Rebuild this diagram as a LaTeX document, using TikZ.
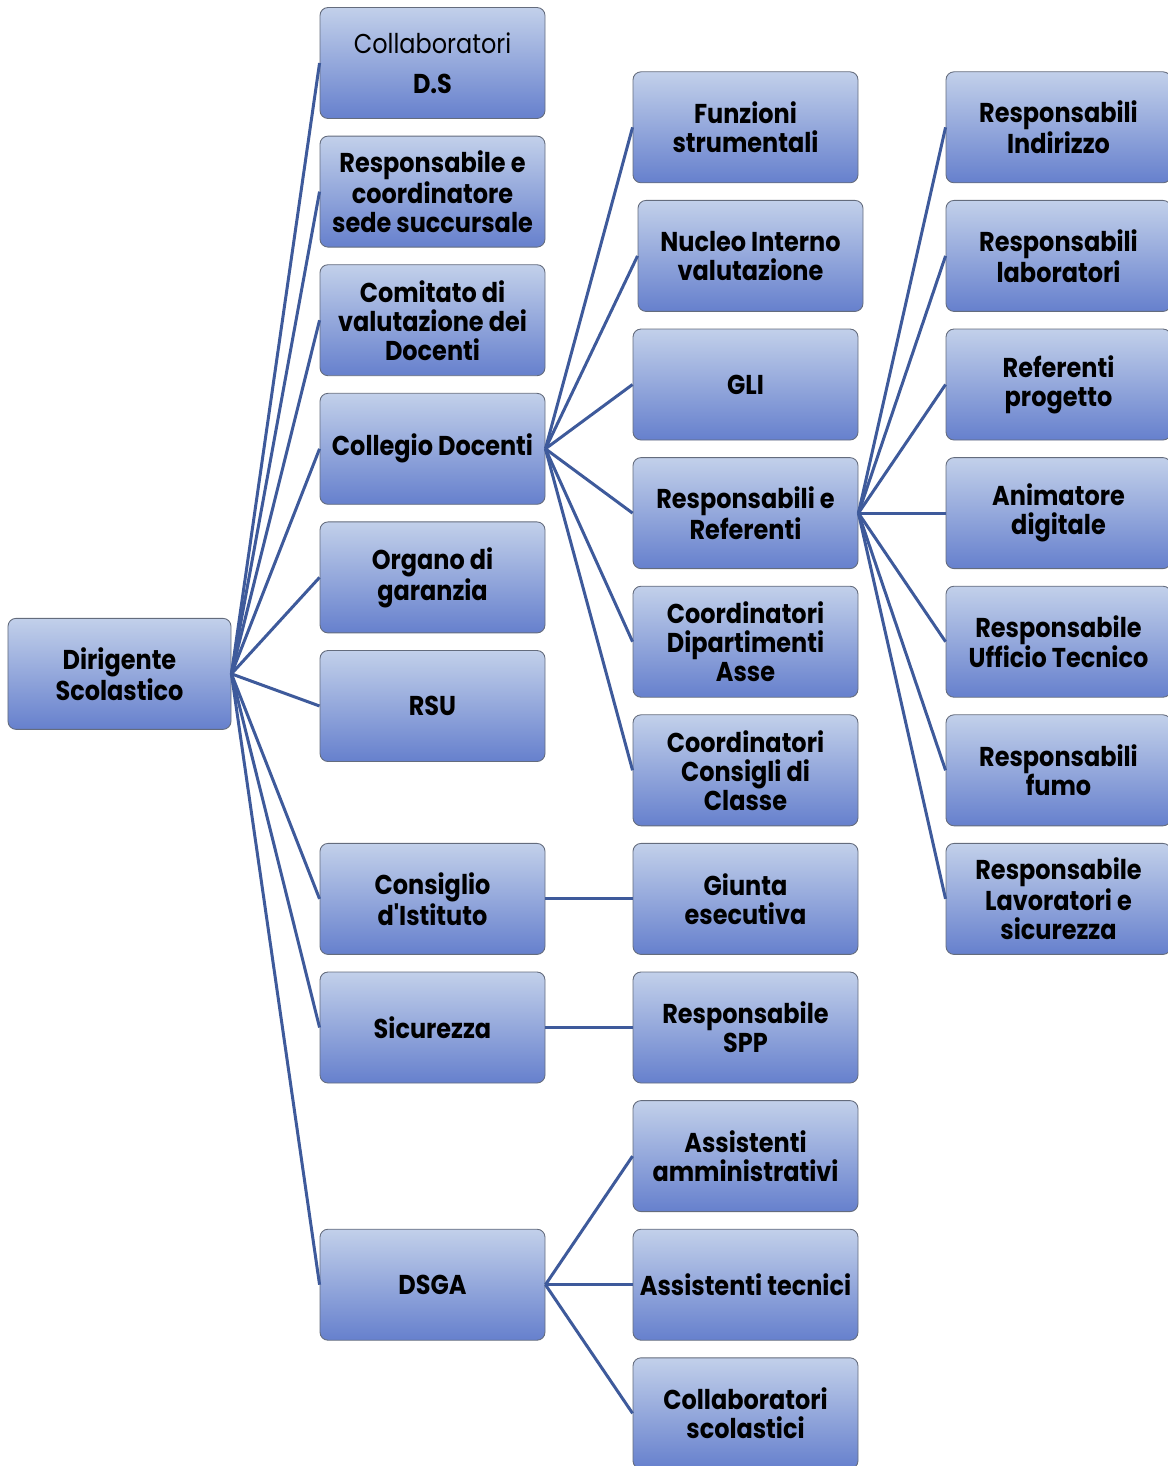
\documentclass[tikz,border=0pt]{standalone}
\usepackage{fontspec}
\newfontfamily\boxfont{Poppins}[FakeStretch=0.88]
\usepackage{tikz}

\definecolor{boxtop}{RGB}{194,208,234}
\definecolor{boxbot}{RGB}{102,128,205}
\definecolor{boxline}{RGB}{100,108,125}
\definecolor{linkblue}{RGB}{62,90,155}

\begin{document}
\begin{tikzpicture}[line width=.5mm,
        box/.style={draw=boxline,line width=.5pt,rounded corners=.16cm,
            top color=boxtop,bottom color=boxbot,
            minimum width=4.5cm,minimum height=2.22cm,align=center,
            font=\boxfont\bfseries\fontsize{15.5}{16.5}\selectfont},
        link/.style={draw=linkblue,line width=.06cm}]
        \pgfmathsetmacro{\h}{2.572}
        \pgfmathsetmacro{\w}{6.26}

        \clip (-2.39,1.26) rectangle (20.97,-28.06);

        \node[box,minimum width=4.46cm] (DS) at (0,-\h * 4.75) {Dirigente\\Scolastico};

        \node[box] (C_1) at (\w,0) {{\mdseries Collaboratori}\\[6pt]D.S};
        \node[box] (C_2) at (\w,-\h) {Responsabile e\\coordinatore\\sede succursale};
        \node[box] (C_3) at (\w,-\h * 2) {Comitato di\\valutazione dei\\Docenti};
        \node[box] (C_4) at (\w,-\h * 3) {Collegio Docenti};
        \node[box] (C_5) at (\w,-\h * 4) {Organo di\\garanzia};
        \node[box] (C_6) at (\w,-\h * 5) {RSU};
        \node[box] (C_7) at (\w,-\h * 6.5) {Consiglio\\d'Istituto};
        \node[box] (C_8) at (\w,-\h * 7.5) {Sicurezza};
        \node[box] (C_9) at (\w,-\h * 9.5) {DSGA};

        \node[box] (CD_1) at (\w * 2,-\h * 0.5) {Funzioni\\strumentali};
        \node[box] (CD_2) at (\w * 2 + 0.1,-\h * 1.5) {Nucleo Interno\\valutazione};
        \node[box] (CD_3) at (\w * 2,-\h * 2.5) {GLI};
        \node[box] (CD_4) at (\w * 2,-\h * 3.5) {Responsabili e\\Referenti};
        \node[box] (CD_5) at (\w * 2,-\h * 4.5) {Coordinatori\\Dipartimenti\\Asse};
        \node[box] (CD_6) at (\w * 2,-\h * 5.5) {Coordinatori\\Consigli di\\Classe};

        \node[box] (CI_1) at (\w * 2,-\h * 6.5) {Giunta\\esecutiva};
        \node[box] (S_1) at (\w * 2,-\h * 7.5) {Responsabile\\SPP};

        \node[box] (G_1) at (\w * 2,-\h * 8.5) {Assistenti\\amministrativi};
        \node[box] (G_2) at (\w * 2,-\h * 9.5) {Assistenti tecnici};
        \node[box] (G_3) at (\w * 2,-\h * 10.5) {Collaboratori\\scolastici};

        \node[box] (R_1) at (\w * 3,-\h * 0.5) {Responsabili\\Indirizzo};
        \node[box] (R_2) at (\w * 3,-\h * 1.5) {Responsabili\\laboratori};
        \node[box] (R_3) at (\w * 3,-\h * 2.5) {Referenti\\progetto};
        \node[box] (R_4) at (\w * 3,-\h * 3.5) {Animatore\\digitale};
        \node[box] (R_5) at (\w * 3,-\h * 4.5) {Responsabile\\Ufficio Tecnico};
        \node[box] (R_6) at (\w * 3,-\h * 5.5) {Responsabili\\fumo};
        \node[box] (R_7) at (\w * 3,-\h * 6.5) {Responsabile\\Lavoratori e\\sicurezza};

        \foreach \i in {1,...,9}
            \draw[link] (DS.east) -- (C_\i.west);
        \foreach \i in {1,...,6}
            \draw[link] (C_4.east) -- (CD_\i.west);
        \foreach \i in {1,...,7}
            \draw[link] (CD_4.east) -- (R_\i.west);
        \draw[link] (C_7.east) -- (CI_1.west);
        \draw[link] (C_8.east) -- (S_1.west);
        \foreach \i in {1,2,3}
            \draw[link] (C_9.east) -- (G_\i.west);

    \end{tikzpicture}
\end{document}
